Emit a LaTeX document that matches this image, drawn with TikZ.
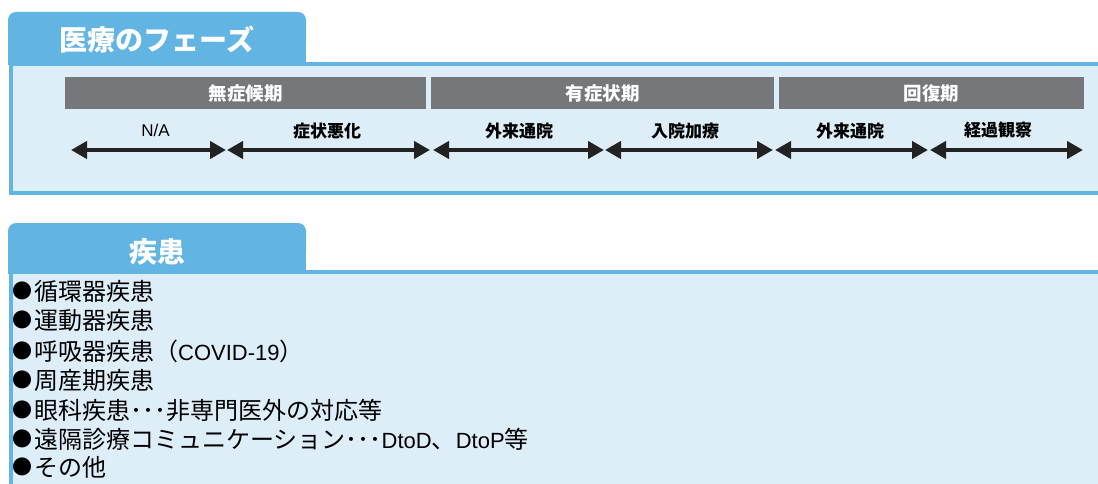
\documentclass[tikz,border=0pt]{standalone}
\usepackage{fontspec}
\setmainfont{Liberation Sans}
\newfontfamily\jp{Noto Sans CJK JP}
\usetikzlibrary{arrows.meta}
\definecolor{tabblue}{HTML}{62B4E3}
\definecolor{panelfill}{HTML}{DEEEF9}
\definecolor{bargray}{HTML}{75777A}
\definecolor{arrowdark}{HTML}{222222}
\newcommand\lat[1]{{\rmfamily\fontsize{22}{24}\selectfont #1}}
\newcommand\bul{\raisebox{1.5pt}{\fontsize{20}{22}\selectfont ●}\hspace{2pt}}
\tikzset{
  panelbox/.style={fill=panelfill, draw=tabblue, line width=3.5pt},
  tabtitle/.style={text=white, inner sep=0pt, font=\jp\bfseries\fontsize{28}{32}\selectfont},
  phasebar/.style={fill=bargray, minimum height=32pt, inner sep=0pt, text=white,
    font=\jp\bfseries\fontsize{18.5}{22}\selectfont},
  spanarrow/.style={draw=arrowdark, line width=4pt,
    {Triangle[length=16pt,width=17pt]}-{Triangle[length=16pt,width=17pt]}},
  spanlabel/.style={inner sep=0pt, font=\jp\bfseries\fontsize{17}{20}\selectfont},
  nalabel/.style={inner sep=0pt, font=\fontsize{17}{20}\selectfont},
  itemtext/.style={anchor=west, inner sep=0pt, font=\jp\fontsize{24}{28}\selectfont}
}
\begin{document}
\begin{tikzpicture}[x=1pt,y=-1pt]
\useasboundingbox (0,0) rectangle (1098,484);
\clip (0,0) rectangle (1098,484);

% ---------- panel 1 ----------
\draw[panelbox] (11,64) rectangle (1110,193);
\fill[tabblue, rounded corners=8pt] (8,12) rectangle (306,50);
\fill[tabblue] (8,30) rectangle (306,65.5);
\node[tabtitle] (title1) at (157,40) {医療のフェーズ};

\node[phasebar, minimum width=361pt] (bar1) at (245.5,93) {無症候期};
\node[phasebar, minimum width=343pt] (bar2) at (602.5,93) {有症状期};
\node[phasebar, minimum width=305pt] (bar3) at (931.5,93) {回復期};

\coordinate (p0) at (71,150);
\coordinate (p1a) at (226,150);
\coordinate (p1b) at (227,150);
\coordinate (p2a) at (430,150);
\coordinate (p2b) at (433,150);
\coordinate (p3a) at (604,150);
\coordinate (p3b) at (605,150);
\coordinate (p4a) at (773,150);
\coordinate (p4b) at (775,150);
\coordinate (p5a) at (928,150);
\coordinate (p5b) at (930,150);
\coordinate (p6) at (1083,150);

\draw[spanarrow] (p0) -- (p1a);
\draw[spanarrow] (p1b) -- (p2a);
\draw[spanarrow] (p2b) -- (p3a);
\draw[spanarrow] (p3b) -- (p4a);
\draw[spanarrow] (p4b) -- (p5a);
\draw[spanarrow] (p5b) -- (p6);

\node[nalabel] (l1) at (155.5,130) {N/A};
\node[spanlabel] (l2) at (327,131) {症状悪化};
\node[spanlabel] (l3) at (519,131) {外来通院};
\node[spanlabel] (l4) at (685,131) {入院加療};
\node[spanlabel] (l5) at (850,131) {外来通院};
\node[spanlabel] (l6) at (998,130) {経過観察};

% ---------- panel 2 ----------
\draw[panelbox] (11,272) rectangle (1110,500);
\fill[tabblue, rounded corners=8pt] (8,223) rectangle (306,260);
\fill[tabblue] (8,240) rectangle (306,273.5);
\node[tabtitle] (title2) at (157,252) {疾患};

\node[itemtext] (i1) at (12,291) {\bul 循環器疾患};
\node[itemtext] (i2) at (12,320) {\bul 運動器疾患};
\node[itemtext] (i3) at (12,351) {\bul 呼吸器疾患（\lat{COVID-19}）};
\node[itemtext] (i4) at (12,380) {\bul 周産期疾患};
\node[itemtext] (i5) at (12,410) {\bul 眼科疾患･･･非専門医外の対応等};
\node[itemtext] (i6) at (12,439) {\bul 遠隔診療コミュニケーション･･･\lat{DtoD}、\lat{DtoP}等};
\node[itemtext] (i7) at (12,467) {\bul その他};
\end{tikzpicture}
\end{document}
